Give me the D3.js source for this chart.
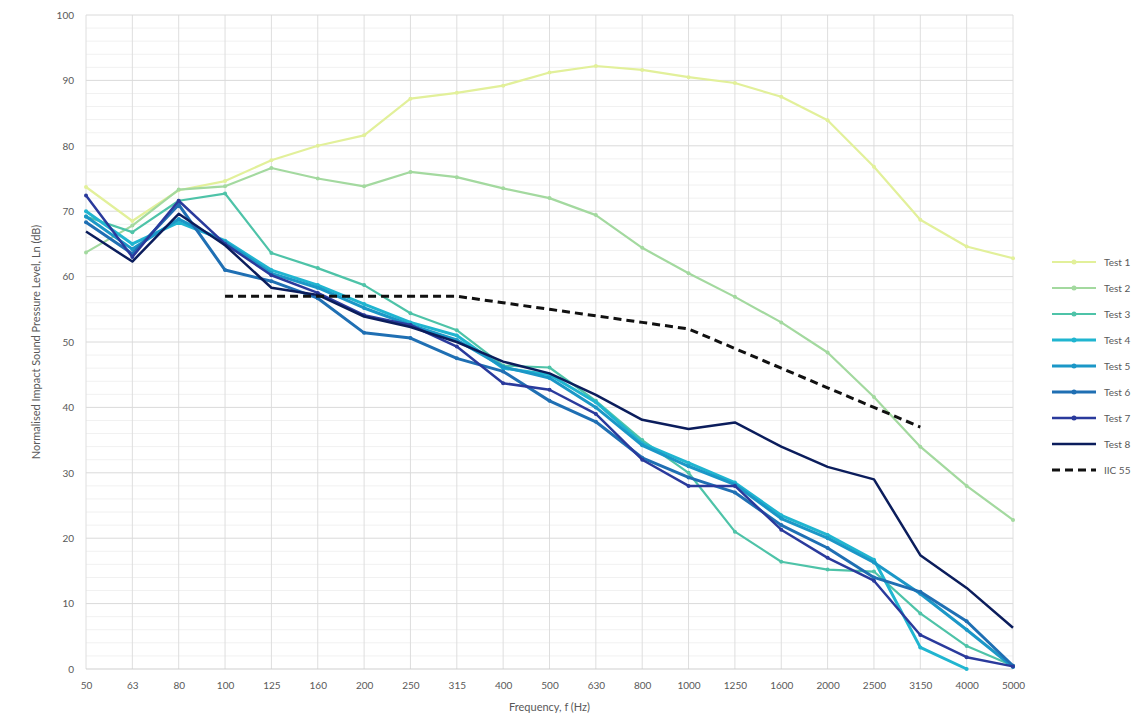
<!DOCTYPE html>
<html>
<head>
<meta charset="utf-8">
<script src="https://cdn.jsdelivr.net/npm/d3@7"></script>
<style>
  body { margin: 0; background: #ffffff; }
  text { font-family: Lato, "Open Sans", sans-serif; fill: #595959; }
</style>
</head>
<body>
<script>

//Frequency bands (Hz)
var frequencies = ["50","63","80","100","125","160","200","250","315","400","500","630","800","1000","1250","1600","2000","2500","3150","4000","5000"];

//Normalised impact sound pressure level, Ln (dB)
var test1 = [73.7, 68.5, 73.2, 74.6, 77.8, 80.0, 81.6, 87.2, 88.1, 89.2, 91.2, 92.2, 91.6, 90.5, 89.6, 87.5, 83.9, 76.8, 68.7, 64.6, 62.8];
var test2 = [63.7, 67.8, 73.3, 73.8, 76.6, 75.0, 73.8, 76.0, 75.2, 73.5, 72.0, 69.4, 64.4, 60.5, 56.9, 53.0, 48.4, 41.6, 34.0, 28.0, 22.8];
var test3 = [69.2, 66.8, 71.6, 72.7, 63.6, 61.3, 58.7, 54.4, 51.8, 46.4, 46.1, 41.0, 35.0, 30.0, 21.0, 16.4, 15.2, 14.9, 8.5, 3.5, 0.5];
var test4 = [70.0, 65.0, 68.3, 65.5, 61.0, 58.7, 55.8, 53.0, 51.0, 46.0, 45.0, 40.8, 34.5, 31.5, 28.5, 23.5, 20.5, 16.7, 3.3, 0.0, null];
var test5 = [69.2, 64.2, 68.8, 65.3, 60.5, 58.3, 55.2, 52.6, 50.3, 46.2, 44.5, 40.0, 34.2, 31.0, 28.2, 23.0, 20.0, 16.3, 11.5, 6.0, 0.3];
var test6 = [68.3, 63.5, 71.0, 61.0, 59.3, 56.7, 51.4, 50.6, 47.5, 45.5, 41.0, 37.8, 32.3, 29.3, 27.0, 22.0, 18.5, 14.0, 11.8, 7.3, 0.5];
var test7 = [72.4, 63.0, 71.6, 65.0, 60.2, 57.5, 54.1, 52.6, 49.3, 43.7, 42.7, 39.0, 32.0, 28.0, 28.0, 21.3, 17.0, 13.5, 5.2, 1.8, 0.4];
var test8 = [66.9, 62.3, 69.6, 64.8, 58.3, 57.2, 53.9, 52.3, 50.0, 47.0, 45.2, 41.9, 38.1, 36.7, 37.7, 34.0, 30.9, 29.0, 17.4, 12.4, 6.3];
var iic55 = [null, null, null, 57, 57, 57, 57, 57, 57, 56, 55, 54, 53, 52, 49, 46, 43, 40, 37, null, null];

var seriesNames = ["Test 1","Test 2","Test 3","Test 4","Test 5","Test 6","Test 7","Test 8","IIC 55"];
var yTicks = [0,10,20,30,40,50,60,70,80,90,100];

//Chart dimensions (in pixels)
var width = 1132,
    height = 723;

var plot = {left: 86, right: 1013, top: 15, bottom: 669};

var seriesData = [test1,test2,test3,test4,test5,test6,test7,test8,iic55];
var colors = ["#e2f09a","#a3d99f","#4ec3a8","#20b5d0","#1b97c7","#1f6fb3","#2a3a9c","#0b1d5c","#111111"];
var widths = [2.2, 2.2, 2.2, 3, 3, 3, 2.5, 2.5, 3];
var dashes = [null,null,null,null,null,null,null,null,"8,5"];

//Scales
var x = d3.scalePoint()
    .domain(frequencies)
    .range([plot.left, plot.right]);

var y = d3.scaleLinear()
    .domain([0, 100])
    .range([plot.bottom, plot.top]);

//Create an SVG
var svg = d3.select("body").append("svg")
    .attr("width", width)
    .attr("height", height);

//Minor horizontal gridlines
var grid = svg.append("g").attr("class", "grid");
grid.selectAll("line.minor")
    .data(d3.range(2, 100, 2).filter(function(d){ return d % 10 != 0; }))
    .enter().append("line")
    .attr("class","minor")
    .attr("x1", plot.left).attr("x2", plot.right)
    .attr("y1", function(d){ return y(d); })
    .attr("y2", function(d){ return y(d); })
    .style("stroke", "#f1f1f1")
    .style("stroke-width", 1);

//Vertical gridlines, one per band
grid.selectAll("line.vert")
    .data(frequencies)
    .enter().append("line")
    .attr("class","vert")
    .attr("x1", function(d){ return x(d); })
    .attr("x2", function(d){ return x(d); })
    .attr("y1", plot.top).attr("y2", plot.bottom)
    .style("stroke", "#dedede")
    .style("stroke-width", 1);

//Major horizontal gridlines
grid.selectAll("line.major")
    .data(yTicks)
    .enter().append("line")
    .attr("class","major")
    .attr("x1", plot.left).attr("x2", plot.right)
    .attr("y1", function(d){ return y(d); })
    .attr("y2", function(d){ return y(d); })
    .style("stroke", function(d){ return d == 0 ? "#cfcfcf" : "#dadada"; })
    .style("stroke-width", 1);

//Axes (labels only, Excel style)
var yAxis = svg.append("g")
    .attr("transform", "translate(" + (plot.left - 12) + ",0)")
    .call(d3.axisLeft(y).tickValues(yTicks).tickSize(0).tickPadding(0));
yAxis.select(".domain").remove();
yAxis.selectAll("text").style("font-size", "10px").style("fill", "#595959");

var xAxis = svg.append("g")
    .attr("transform", "translate(0," + (plot.bottom + 13) + ")")
    .call(d3.axisBottom(x).tickSize(0).tickPadding(0));
xAxis.select(".domain").remove();
xAxis.selectAll("text").style("font-size", "10px").style("fill", "#595959");

//Axis titles
svg.append("text")
    .attr("transform", "translate(40," + ((plot.top + plot.bottom) / 2) + ") rotate(-90)")
    .attr("text-anchor", "middle")
    .attr("font-size", 11)
    .text("Normalised Impact Sound Pressure Level, Ln (dB)");

svg.append("text")
    .attr("x", (plot.left + plot.right) / 2)
    .attr("y", 711)
    .attr("text-anchor", "middle")
    .attr("font-size", 11)
    .text("Frequency, f (Hz)");

//Lines
var line = d3.line()
    .defined(function(d){ return d != null; })
    .x(function(d, i){ return x(frequencies[i]); })
    .y(function(d){ return y(d); });

var lines = svg.append("g").attr("class", "lines");

seriesData.forEach(function(values, k) {
  lines.append("path")
      .attr("d", line(values))
      .style("fill", "none")
      .style("stroke", colors[k])
      .style("stroke-width", widths[k])
      .style("stroke-dasharray", dashes[k])
      .style("stroke-linejoin", "round");

  //small markers on the test series
  if (k < 7) {
    lines.selectAll("circle.m" + k)
        .data(values.map(function(v, i){ return {v: v, i: i}; }).filter(function(d){ return d.v != null; }))
        .enter().append("circle")
        .attr("class", "m" + k)
        .attr("cx", function(d){ return x(frequencies[d.i]); })
        .attr("cy", function(d){ return y(d.v); })
        .attr("r", 2)
        .style("fill", colors[k]);
  }
});

//Legend
var legend = svg.append("g")
    .attr("class", "legend")
    .attr("transform", "translate(1052,262)");

var items = legend.selectAll("g")
    .data(seriesNames)
    .enter().append("g")
    .attr("transform", function(d, i){ return "translate(0," + (i * 26) + ")"; });

items.append("line")
    .attr("x1", 0).attr("x2", 44)
    .attr("y1", 0).attr("y2", 0)
    .style("stroke", function(d, i){ return colors[i]; })
    .style("stroke-width", function(d, i){ return widths[i]; })
    .style("stroke-dasharray", function(d, i){ return dashes[i]; });

items.filter(function(d, i){ return i < 7; })
    .append("circle")
    .attr("cx", 22).attr("cy", 0).attr("r", 2.5)
    .style("fill", function(d){ return colors[seriesNames.indexOf(d)]; });

items.append("text")
    .attr("x", 52)
    .attr("y", 0)
    .attr("dy", "0.35em")
    .attr("font-size", 10)
    .text(function(d){ return d; });

</script>
</body>
</html>
